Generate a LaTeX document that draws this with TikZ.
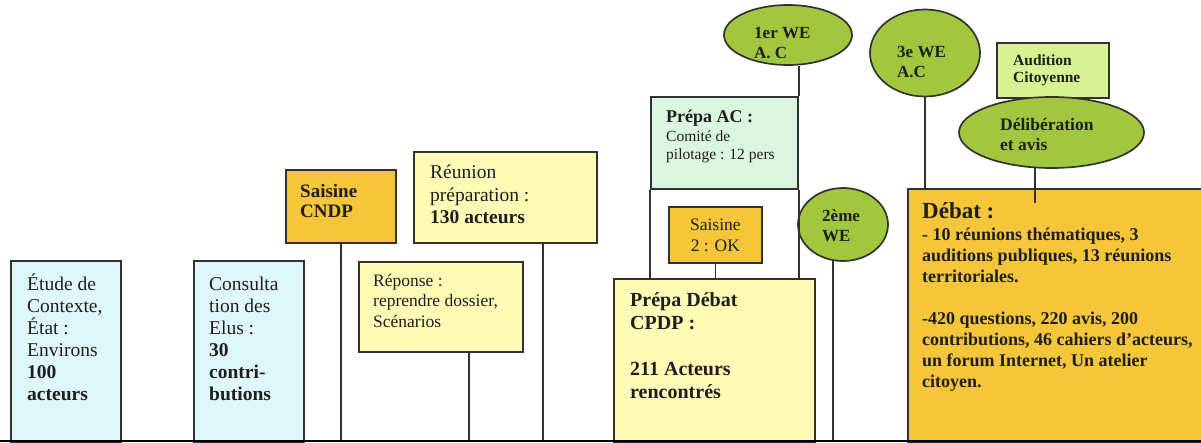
\documentclass[tikz,border=0pt]{standalone}
\usepackage{fontspec}
\setmainfont{Liberation Serif}
\usetikzlibrary{shapes.geometric}

\definecolor{skyfill}{RGB}{221,247,251}
\definecolor{butter}{RGB}{255,250,182}
\definecolor{gold}{RGB}{245,198,58}
\definecolor{mint}{RGB}{219,246,222}
\definecolor{leaf}{RGB}{161,199,62}
\definecolor{lime}{RGB}{214,242,146}
\definecolor{ink}{RGB}{30,30,30}
\definecolor{edge}{RGB}{50,50,50}

\tikzset{
  box/.style={draw=edge, line width=1.7pt, inner sep=0pt, anchor=north west},
  bubble/.style={ellipse, draw=edge, line width=1.7pt, fill=leaf, inner sep=0pt},
  txt/.style={anchor=base west, align=left, inner sep=0pt, text=ink},
  link/.style={draw=edge, line width=1.7pt}
}

\begin{document}
\begin{tikzpicture}[x=1pt, y=-1pt]
  \useasboundingbox (0,0) rectangle (1201,443);
  \coordinate (base) at (0,441);

  % boxes
  \node[box, fill=skyfill, minimum width=110, minimum height=181] (etude) at (10,260) {};
  \node[box, fill=skyfill, minimum width=110, minimum height=181] (consult) at (193,260) {};
  \node[box, fill=gold, minimum width=110, minimum height=73] (cndp) at (285,169) {};
  \node[box, fill=butter, minimum width=183, minimum height=91] (reunion) at (413,151) {};
  \node[box, fill=butter, minimum width=164, minimum height=90] (reponse) at (358,261) {};
  \node[box, fill=mint, minimum width=147, minimum height=92] (prepaac) at (650,96) {};
  \node[box, fill=gold, minimum width=93, minimum height=56] (saisine2) at (668,206) {};
  \node[box, fill=butter, minimum width=201, minimum height=163] (prepadebat) at (613,278) {};
  \node[box, fill=lime, minimum width=112, minimum height=55] (audition) at (996,42) {};
  \node[box, fill=gold, minimum width=320, minimum height=253] (debat) at (907,188) {};

  % ellipses
  \node[bubble, minimum width=128, minimum height=60] (we1) at (788,35) {};
  \node[bubble, minimum width=90, minimum height=73] (we2) at (843,224.5) {};
  \node[bubble, minimum width=110, minimum height=87] (we3) at (925,53) {};
  \node[bubble, minimum width=185, minimum height=71] (delib) at (1051.5,132.5) {};

  % texts (base = baseline of the last line)
  \node[txt, font=\fontsize{19.5}{22}\selectfont] (etudet) at ([shift={(17,140)}]etude.north west)
    {Étude de\\Contexte,\\État :\\Environs\\\textbf{100}\\\textbf{acteurs}};
  \node[txt, font=\fontsize{19.5}{22}\selectfont] (consultt) at ([shift={(16,140)}]consult.north west)
    {Consulta\\tion des\\Elus :\\\textbf{30}\\\textbf{contri-}\\\textbf{butions}};
  \node[txt, font=\fontsize{19}{20}\selectfont\bfseries] (cndpt) at ([shift={(15,49)}]cndp.north west)
    {Saisine\\CNDP};
  \node[txt, font=\fontsize{19.5}{22.5}\selectfont] (reuniont) at ([shift={(17,73)}]reunion.north west)
    {Réunion\\préparation :\\\textbf{130 acteurs}};
  \node[txt, font=\fontsize{17.5}{20.5}\selectfont] (reponset) at ([shift={(15,66)}]reponse.north west)
    {Réponse :\\reprendre dossier,\\Scénarios};
  \node[txt, font=\fontsize{18}{20}\selectfont\bfseries] (prepaact) at ([shift={(16,27)}]prepaac.north west)
    {Prépa AC :};
  \node[txt, font=\fontsize{15.5}{18}\selectfont] (prepaacb) at ([shift={(16,64)}]prepaac.north west)
    {Comité de\\pilotage : 12 pers};
  \node[txt, anchor=base, align=center, font=\fontsize{17.5}{21}\selectfont] (saisine2t) at ([shift={(0,46)}]saisine2.north)
    {Saisine\\2 : OK};
  \node[txt, font=\fontsize{20}{23}\selectfont\bfseries] (prepadebatt) at ([shift={(17,120)}]prepadebat.north west)
    {Prépa Débat\\CPDP :\\[23pt]211 Acteurs\\rencontrés};
  \node[txt, font=\fontsize{15.5}{17}\selectfont\bfseries] (auditiont) at ([shift={(17,41)}]audition.north west)
    {Audition\\Citoyenne};
  \node[txt, font=\fontsize{23}{26}\selectfont\bfseries] (debatt) at ([shift={(15,31)}]debat.north west)
    {Débat :};
  \node[txt, font=\fontsize{18}{21}\selectfont\bfseries] (debatb) at ([shift={(15,199)}]debat.north west)
    {- 10 réunions thématiques, 3\\auditions publiques, 13 réunions\\territoriales.\\[21pt]-420 questions, 220 avis, 200\\contributions, 46 cahiers d’acteurs,\\un forum Internet, Un atelier\\citoyen.};
  \node[txt, font=\fontsize{17}{20}\selectfont\bfseries] (we1t) at ([shift={(-34,24)}]we1.center) {1er WE\\A. C};
  \node[txt, font=\fontsize{17}{20}\selectfont\bfseries] (we2t) at ([shift={(-21,17.5)}]we2.center) {2ème\\WE};
  \node[txt, font=\fontsize{17}{20}\selectfont\bfseries] (we3t) at ([shift={(-28,25)}]we3.center) {3e WE\\A.C};
  \node[txt, font=\fontsize{17.5}{20}\selectfont\bfseries] (delibt) at ([shift={(-51.5,18.5)}]delib.center) {Délibération\\et avis};

  % connectors
  \draw[link] (cndp.south) -- (cndp.south |- base);
  \draw[link] ([xshift=37.5]reunion.south) -- ([xshift=37.5]reunion.south |- base);
  \draw[link] ([xshift=28]reponse.south) -- ([xshift=28]reponse.south |- base);
  \draw[link] (prepaac.north east |- we1.south) -- (prepaac.north east);
  \draw[link] (prepaac.south west) -- (prepaac.south west |- prepadebat.north);
  \draw[link] (prepaac.south east) -- (prepaac.south east |- prepadebat.north);
  \draw[link] (saisine2.south) -- (saisine2.south |- prepadebat.north);
  \draw[link] (we2.-105) -- (we2.-105 |- base);
  \draw[link] (we3.south) -- (we3.south |- debat.north);
  \draw[link] (delib.-115) -- (delib.-115 |- debatt.north);

  % base line
  \draw[line width=1.8pt, black] (base) -- (1201,441);
\end{tikzpicture}
\end{document}
